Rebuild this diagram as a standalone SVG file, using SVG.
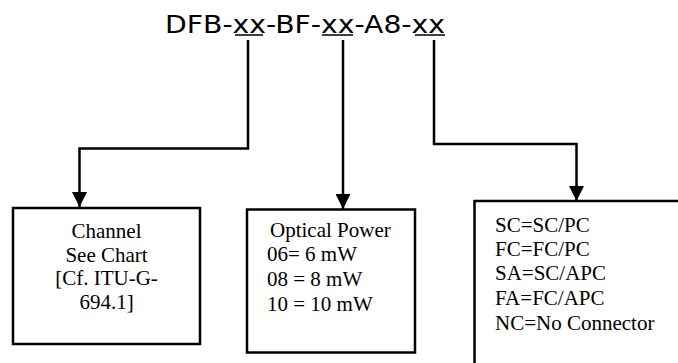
<svg xmlns="http://www.w3.org/2000/svg" width="678" height="363" viewBox="0 0 678 363">
<defs>
<marker id="arr" markerWidth="16" markerHeight="15" refX="15" refY="7.5" orient="auto" markerUnits="userSpaceOnUse">
<path d="M0,0 L15,7.5 L0,15 Z" fill="#000"/>
</marker>
<style>
.box{fill:#fff;stroke:#000;stroke-width:2.5}
.conn{fill:none;stroke:#000;stroke-width:2.5}
.t{font-family:"Liberation Serif","Times New Roman",serif;font-size:21px;fill:#000}
.title{font-family:"DejaVu Sans","Liberation Sans",sans-serif;font-size:24.5px;fill:#000}
.ul{stroke:#000;stroke-width:1.5}
</style>
</defs>
<rect width="678" height="363" fill="#fff"/>
<g id="title">
<text class="title" x="165" y="33" textLength="280" lengthAdjust="spacingAndGlyphs">DFB-xx-BF-xx-A8-xx</text>
<line class="ul" x1="235" y1="35" x2="263" y2="35"/>
<line class="ul" x1="322" y1="35" x2="353" y2="35"/>
<line class="ul" x1="415" y1="35" x2="445" y2="35"/>
</g>
<g id="connectors">
<path class="conn" d="M248,40 V148.5 H79.5 V207" marker-end="url(#arr)"/>
<path class="conn" d="M343,40 V209" marker-end="url(#arr)"/>
<path class="conn" d="M434,40 V144 H576.5 V201" marker-end="url(#arr)"/>
</g>
<g id="channel">
<rect class="box" x="13" y="208" width="187" height="136"/>
<text class="t" x="106.5" y="238" text-anchor="middle">Channel</text>
<text class="t" x="106.5" y="261.5" text-anchor="middle">See Chart</text>
<text class="t" x="106.5" y="285" text-anchor="middle">[Cf. ITU-G-</text>
<text class="t" x="106.5" y="308.5" text-anchor="middle">694.1]</text>
</g>
<g id="power">
<rect class="box" x="247" y="209.5" width="168" height="143"/>
<text class="t" x="270" y="237">Optical Power</text>
<text class="t" x="267" y="261">06= 6 mW</text>
<text class="t" x="267" y="286">08 = 8 mW</text>
<text class="t" x="267" y="310.5">10 = 10 mW</text>
</g>
<g id="connector-type">
<rect class="box" x="474.5" y="201" width="215" height="175"/>
<text class="t" x="495" y="231.5">SC=SC/PC</text>
<text class="t" x="495" y="256">FC=FC/PC</text>
<text class="t" x="495" y="280">SA=SC/APC</text>
<text class="t" x="495" y="304.5">FA=FC/APC</text>
<text class="t" x="495" y="329.5">NC=No Connector</text>
</g>
</svg>
